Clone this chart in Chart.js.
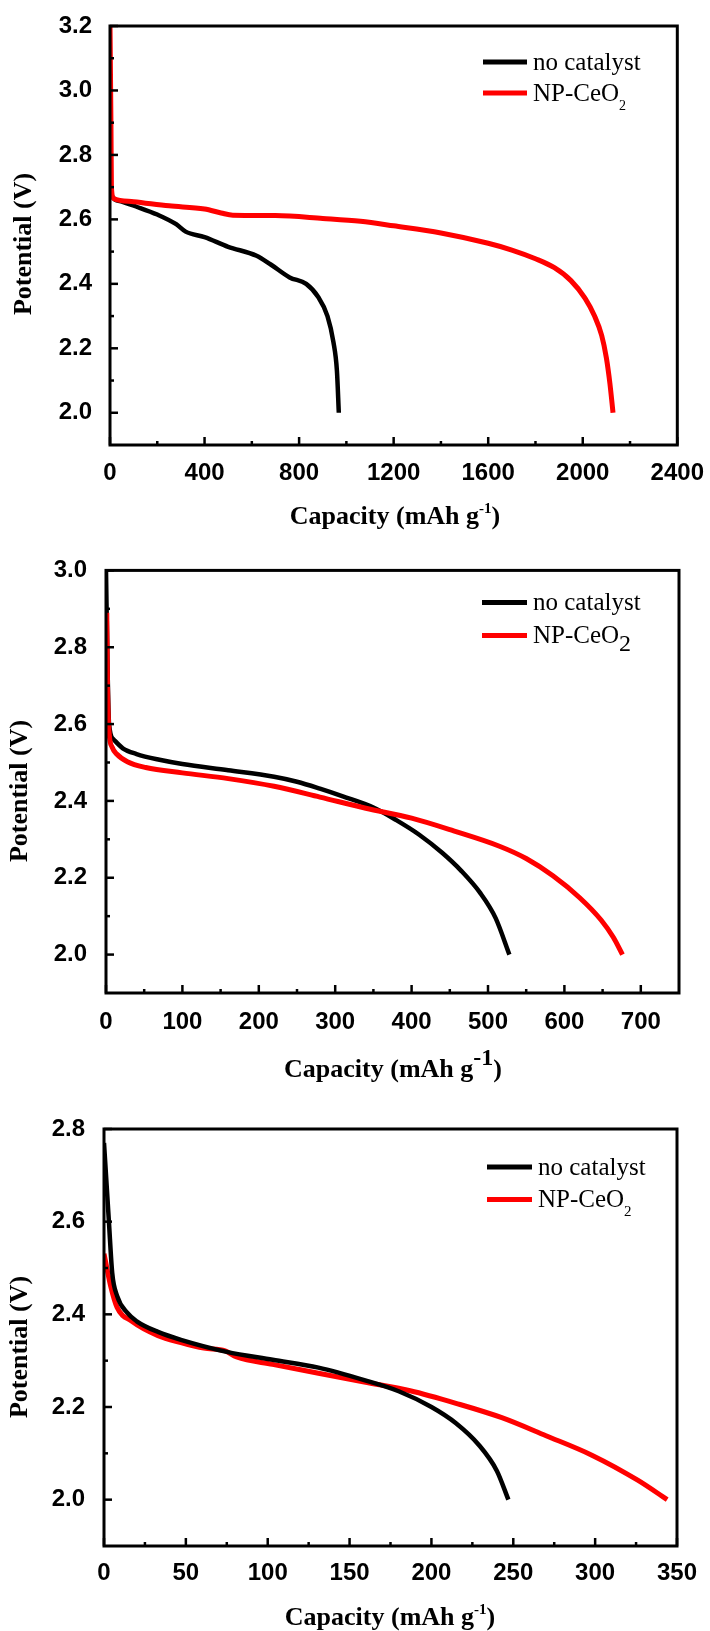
<!DOCTYPE html>
<html>
<head>
<meta charset="utf-8">
<script src="https://cdn.jsdelivr.net/npm/chart.js@4/dist/chart.umd.min.js"></script>
<style>
  body { margin: 0; background: #fff; }
  canvas { position: absolute; left: 0; display: block; }
</style>
</head>
<body>
<canvas id="c1" width="710" height="545" style="top:0px"></canvas>
<canvas id="c2" width="710" height="540" style="top:545px"></canvas>
<canvas id="c3" width="710" height="546" style="top:1085px"></canvas>
<script>
// series names and colours (same in all three panels)
const seriesLabels = ['no catalyst', 'NP-CeO2'];
const seriesColors = ['#000000', '#ff0000'];
const xTitleParts = ['Capacity (mAh g', '-1', ')'];
const yTitle = 'Potential (V)';

// panel 1
const xTicks1 = [0, 400, 800, 1200, 1600, 2000, 2400];
const yTicks1 = [2.0, 2.2, 2.4, 2.6, 2.8, 3.0, 3.2];
const cap1Black = [0, 20, 50, 110, 200, 280, 320, 400, 500, 620, 680, 760, 830, 880, 920, 945, 960, 968];
const pot1Black = [2.68, 2.662, 2.655, 2.64, 2.615, 2.585, 2.562, 2.545, 2.515, 2.487, 2.46, 2.42, 2.4, 2.36, 2.3, 2.22, 2.13, 2.0];
const cap1Red = [0, 4, 6, 15, 100, 250, 400, 470, 520, 700, 900, 1060, 1200, 1400, 1600, 1700, 1800, 1880, 1950, 2010, 2050, 2080, 2100, 2115, 2128];
const pot1Red = [3.2, 2.9, 2.7, 2.665, 2.655, 2.642, 2.632, 2.62, 2.613, 2.612, 2.603, 2.594, 2.58, 2.558, 2.526, 2.505, 2.478, 2.45, 2.41, 2.355, 2.3, 2.24, 2.17, 2.09, 2.0];

// panel 2
const xTicks2 = [0, 100, 200, 300, 400, 500, 600, 700];
const yTicks2 = [2.0, 2.2, 2.4, 2.6, 2.8, 3.0];
const cap2Black = [0, 2, 4, 10, 22, 40, 70, 100, 160, 220, 250, 280, 310, 350, 380, 410, 440, 465, 490, 510, 528];
const pot2Black = [3.0, 2.75, 2.6, 2.56, 2.537, 2.522, 2.507, 2.496, 2.48, 2.463, 2.45, 2.432, 2.412, 2.383, 2.35, 2.312, 2.265, 2.218, 2.16, 2.095, 2.0];
const cap2Red = [1, 2, 4, 8, 14, 28, 52, 100, 160, 220, 280, 340, 400, 455, 515, 550, 585, 620, 648, 664, 676];
const pot2Red = [2.89, 2.7, 2.58, 2.54, 2.522, 2.502, 2.487, 2.473, 2.458, 2.438, 2.41, 2.381, 2.355, 2.322, 2.282, 2.25, 2.205, 2.148, 2.09, 2.045, 2.0];

// panel 3
const xTicks3 = [0, 50, 100, 150, 200, 250, 300, 350];
const yTicks3 = [2.0, 2.2, 2.4, 2.6, 2.8];
const cap3Black = [0, 3, 5, 8, 14, 20, 33, 47, 75, 103, 131, 159, 180, 200, 215, 229, 240, 247];
const pot3Black = [2.77, 2.6, 2.49, 2.44, 2.404, 2.385, 2.362, 2.345, 2.319, 2.302, 2.285, 2.258, 2.234, 2.2, 2.165, 2.118, 2.062, 2.0];
const cap3Red = [0, 4, 8, 17, 33, 47, 61, 74, 81, 103, 131, 159, 187, 215, 243, 270, 298, 326, 344];
const pot3Red = [2.531, 2.462, 2.415, 2.385, 2.354, 2.339, 2.327, 2.321, 2.308, 2.292, 2.273, 2.254, 2.235, 2.208, 2.177, 2.138, 2.096, 2.042, 2.0];

const tickFont = { family: '"Liberation Sans", Arial, sans-serif', size: 24, weight: 'bold' };
const serif = '"Liberation Serif", "Times New Roman", serif';

function toPoints(xs, ys) {
    return xs.map((x, i) => ({ x: x, y: ys[i] }));
}

function midpoints(arr) {
    const out = [];
    for (let i = 0; i < arr.length - 1; i++) out.push((arr[i] + arr[i + 1]) / 2);
    return out;
}

// box round the plot + inward major/minor ticks on the bottom and left axes
const framePlugin = {
    id: 'frame',
    afterDatasetsDraw(chart) {
        const { ctx, chartArea: a, scales: { x, y } } = chart;
        ctx.save();
        ctx.strokeStyle = '#000';
        ctx.lineWidth = 2.5;
        const tick = (px, py, dx, dy) => {
            ctx.beginPath();
            ctx.moveTo(px, py);
            ctx.lineTo(px + dx, py + dy);
            ctx.stroke();
        };
        const xMaj = x.ticks.map(t => t.value);
        const yMaj = y.ticks.map(t => t.value);
        xMaj.forEach(v => tick(x.getPixelForValue(v), a.bottom, 0, -8));
        midpoints(xMaj).forEach(v => tick(x.getPixelForValue(v), a.bottom, 0, -4));
        yMaj.forEach(v => tick(a.left, y.getPixelForValue(v), 8, 0));
        midpoints(yMaj).forEach(v => tick(a.left, y.getPixelForValue(v), 4, 0));
        ctx.lineWidth = 3;
        ctx.strokeRect(a.left, a.top, a.right - a.left, a.bottom - a.top);
        ctx.restore();
    }
};

// axis titles with the g^-1 superscript
const titlePlugin = {
    id: 'titles',
    afterDraw(chart, args, o) {
        const ctx = chart.ctx;
        ctx.save();
        ctx.fillStyle = '#000';
        ctx.textBaseline = 'alphabetic';
        const main = 'bold ' + o.size + 'px ' + serif;
        const sup = 'bold ' + o.supSize + 'px ' + serif;
        ctx.font = main;
        const w0 = ctx.measureText(xTitleParts[0]).width;
        const w2 = ctx.measureText(xTitleParts[2]).width;
        ctx.font = sup;
        const w1 = ctx.measureText(xTitleParts[1]).width;
        let sx = o.xCx - (w0 + w1 + w2) / 2;
        const base = o.xCy + o.size * 0.33;
        ctx.font = main;
        ctx.fillText(xTitleParts[0], sx, base);
        sx += w0;
        ctx.font = sup;
        ctx.fillText(xTitleParts[1], sx, base - o.supRise);
        sx += w1;
        ctx.font = main;
        ctx.fillText(xTitleParts[2], sx, base);

        ctx.translate(o.yCx, o.yCy);
        ctx.rotate(-Math.PI / 2);
        ctx.textAlign = 'center';
        ctx.textBaseline = 'middle';
        ctx.fillText(yTitle, 0, 0);
        ctx.restore();
    }
};

// legend inside the plot, trailing digits drawn as subscript
const keyPlugin = {
    id: 'keyLegend',
    afterDraw(chart, args, o) {
        const ctx = chart.ctx;
        ctx.save();
        chart.data.datasets.forEach((ds, i) => {
            const ly = o.y0 + i * o.dy;
            ctx.strokeStyle = ds.borderColor;
            ctx.lineWidth = 5;
            ctx.beginPath();
            ctx.moveTo(o.x0, ly);
            ctx.lineTo(o.x1, ly);
            ctx.stroke();
            const m = ds.label.match(/^(.*?)(\d*)$/);
            ctx.fillStyle = '#000';
            ctx.textBaseline = 'alphabetic';
            ctx.font = o.size + 'px ' + serif;
            ctx.fillText(m[1], o.tx, ly + 7.5);
            if (m[2]) {
                const w = ctx.measureText(m[1]).width;
                ctx.font = o.subSize + 'px ' + serif;
                ctx.fillText(m[2], o.tx + w, ly + 7.5 + o.subDrop);
            }
        });
        ctx.restore();
    }
};

function makeChart(id, c) {
    const blackData = toPoints(c.capBlack, c.potBlack);
    const redData = toPoints(c.capRed, c.potRed);
    return new Chart(document.getElementById(id), {
        type: 'line',
        data: {
            datasets: [
                { label: seriesLabels[0], data: blackData, borderColor: seriesColors[0], borderWidth: 4.5, order: c.blackOrder },
                { label: seriesLabels[1], data: redData, borderColor: seriesColors[1], borderWidth: 5, order: c.redOrder }
            ]
        },
        options: {
            responsive: false,
            animation: false,
            devicePixelRatio: 1,
            layout: { padding: { left: 0, top: c.top, right: c.right, bottom: 0 } },
            elements: {
                point: { radius: 0 },
                line: { cubicInterpolationMode: 'monotone', borderCapStyle: 'butt', borderJoinStyle: 'round' }
            },
            plugins: {
                legend: { display: false },
                tooltip: { enabled: false },
                titles: c.titles,
                keyLegend: c.key
            },
            scales: {
                x: {
                    type: 'linear', min: c.xMin, max: c.xMax,
                    grid: { display: false }, border: { display: false },
                    afterBuildTicks: s => { s.ticks = c.xTicks.map(v => ({ value: v })); },
                    afterFit: s => { s.height = c.xHeight; },
                    ticks: { padding: c.xPad, autoSkip: false, maxRotation: 0, color: '#000', font: tickFont, callback: v => String(v) }
                },
                y: {
                    type: 'linear', min: c.yMin, max: c.yMax,
                    grid: { display: false }, border: { display: false },
                    afterBuildTicks: s => { s.ticks = c.yTicks.map(v => ({ value: v })); },
                    afterFit: s => { s.width = c.left; },
                    ticks: { padding: c.yPad, autoSkip: false, color: '#000', font: tickFont, callback: v => v.toFixed(1) }
                }
            }
        },
        plugins: [framePlugin, titlePlugin, keyPlugin]
    });
}

makeChart('c1', {
    capBlack: cap1Black, potBlack: pot1Black, capRed: cap1Red, potRed: pot1Red,
    xTicks: xTicks1, yTicks: yTicks1, xMin: 0, xMax: 2400, yMin: 1.9, yMax: 3.2,
    left: 110, right: 30, top: 26, xHeight: 100, xPad: 6, yPad: 10,
    blackOrder: 1, redOrder: 0,
    titles: { size: 26, supSize: 15, supRise: 11, xCx: 395, xCy: 515, yCx: 24, yCy: 244 },
    key: { x0: 483, x1: 527, y0: 62, dy: 31, tx: 533, size: 25, subSize: 14, subDrop: 9 }
});

makeChart('c2', {
    capBlack: cap2Black, potBlack: pot2Black, capRed: cap2Red, potRed: pot2Red,
    xTicks: xTicks2, yTicks: yTicks2, xMin: 0, xMax: 750, yMin: 1.9, yMax: 3.0,
    left: 106, right: 31, top: 25, xHeight: 92, xPad: 7, yPad: 11,
    blackOrder: 1, redOrder: 0,
    titles: { size: 26, supSize: 24, supRise: 12, xCx: 393, xCy: 523, yCx: 20, yCy: 246 },
    key: { x0: 482, x1: 527, y0: 57.5, dy: 33, tx: 533, size: 25, subSize: 24, subDrop: 8 }
});

makeChart('c3', {
    capBlack: cap3Black, potBlack: pot3Black, capRed: cap3Red, potRed: pot3Red,
    xTicks: xTicks3, yTicks: yTicks3, xMin: 0, xMax: 350, yMin: 1.9, yMax: 2.8,
    left: 104, right: 33, top: 44, xHeight: 85, xPad: 5, yPad: 11,
    blackOrder: 0, redOrder: 1,
    titles: { size: 26, supSize: 15, supRise: 11, xCx: 390, xCy: 531, yCx: 20, yCy: 262 },
    key: { x0: 487, x1: 532, y0: 82, dy: 32.5, tx: 538, size: 25, subSize: 15, subDrop: 9 }
});
</script>
</body>
</html>
